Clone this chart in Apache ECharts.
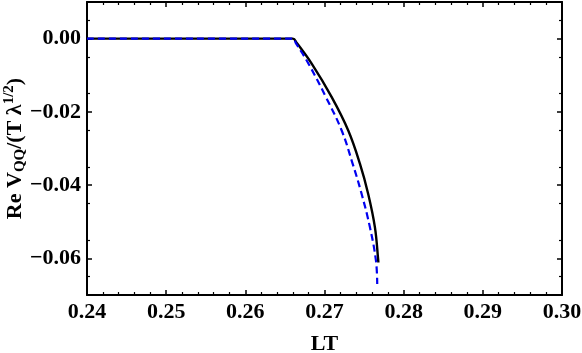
<!DOCTYPE html>
<html lang="en">
<head>
<meta charset="UTF-8">
<title>Re V_QQ vs LT</title>
<style>
	html,body{margin:0;padding:0;background:#fff;}
	#chart{width:582px;height:353px;}
</style>
</head>
<body>
<div id="chart"></div>
<script src="https://cdn.jsdelivr.net/npm/echarts@6/dist/echarts.min.js"></script>
<script>
	// values
	var xTicks = [0.24, 0.25, 0.26, 0.27, 0.28, 0.29, 0.30];
	var yTicks = [0.00, -0.02, -0.04, -0.06];

	var solidX = [0.24, 0.2660, 0.2665, 0.26838, 0.27091, 0.27300, 0.27448, 0.27552, 0.27637, 0.27679, 0.27680];
	var solidY = [0, 0, -0.0012, -0.00684, -0.01597, -0.02508, -0.03419, -0.04240, -0.05153, -0.06064, -0.0611];

	var dashX = [0.24, 0.2660, 0.2664, 0.26798, 0.27018, 0.27217, 0.27356, 0.27469, 0.27574, 0.27650, 0.27666];
	var dashY = [0, 0, -0.0013, -0.00684, -0.01597, -0.02508, -0.03419, -0.04240, -0.05153, -0.06064, -0.06701];

	function pairs(xs, ys){
		var out = [];
		for(var i=0;i<xs.length;i++) out.push([xs[i], ys[i]]);
		return out;
	}
	function fmt(v){
		var s = Math.abs(v).toFixed(2);
		return (v < -1e-9 ? '\u2212' : '') + s;
	}

	var font = '"Liberation Serif", "DejaVu Serif", serif';
	var frame = {show:true, onZero:false, lineStyle:{color:'#000', width:2}};
	var tick = {show:true, inside:true, length:5, lineStyle:{color:'#000', width:1.5}};

	var option = {
		animation:false,
		grid:{left:87, right:20, top:2, bottom:58, outerBoundsMode:'none'},
		xAxis:[{
			type:'value', min:0.24, max:0.30, interval:0.01,
			name:'LT', nameLocation:'middle', nameGap:38, nameMoveOverlap:false,
			nameTextStyle:{fontFamily:font, fontWeight:'bold', fontSize:22, color:'#000'},
			axisLine:frame,
			axisTick:{show:true, inside:true, length:5, customValues:xTicks, lineStyle:{color:'#000', width:1.5}},
			minorTick:{show:true, splitNumber:5, length:3, lineStyle:{color:'#000', width:1.2}},
			axisLabel:{fontFamily:font, fontWeight:'bold', fontSize:22, color:'#000', margin:6,
				customValues:xTicks,
				formatter:function(v){ return v.toFixed(2); }},
			splitLine:{show:false}
		},{
			type:'value', position:'top', min:0.24, max:0.30, interval:0.01,
			axisLine:frame,
			axisTick:tick,
			minorTick:{show:true, splitNumber:5, length:3, lineStyle:{color:'#000', width:1.2}},
			axisLabel:{show:false}, splitLine:{show:false}
		}],
		yAxis:[{
			type:'value', min:-0.07, max:0.01, interval:0.01,
			name:'{t|Re }{v|V}{sub|QQ}{t|/(T }{l|\u03bb}{sup|1/2}{t|)}',
			nameLocation:'middle', nameGap:59, nameRotate:90, nameMoveOverlap:false,
			nameTextStyle:{rich:{
				t:{fontFamily:font, fontWeight:'bold', fontSize:22, color:'#000'},
				v:{fontFamily:font, fontWeight:'bold', fontSize:22, color:'#000'},
				l:{fontFamily:font, fontWeight:'bold', fontSize:22, color:'#000'},
				sub:{fontFamily:font, fontWeight:'bold', fontSize:15, color:'#000', verticalAlign:'bottom', padding:[9,0,0,0]},
				sup:{fontFamily:font, fontWeight:'bold', fontSize:15, color:'#000', verticalAlign:'top', padding:[0,0,11,0]}
			}},
			axisLine:frame,
			axisTick:{show:true, inside:true, length:5, customValues:yTicks, lineStyle:{color:'#000', width:1.5}},
			minorTick:{show:true, splitNumber:2, length:3, lineStyle:{color:'#000', width:1.2}},
			axisLabel:{fontFamily:font, fontWeight:'bold', fontSize:22, color:'#000', margin:6,
				customValues:yTicks, formatter:fmt},
			splitLine:{show:false}
		},{
			type:'value', position:'right', min:-0.07, max:0.01, interval:0.01,
			axisLine:frame,
			axisTick:{show:true, inside:true, length:5, customValues:yTicks, lineStyle:{color:'#000', width:1.5}},
			minorTick:{show:true, splitNumber:2, length:3, lineStyle:{color:'#000', width:1.2}},
			axisLabel:{show:false}, splitLine:{show:false}
		}],
		series:[{
			type:'line', data:pairs(solidX, solidY), showSymbol:false, smooth:0.4,
			lineStyle:{color:'#000', width:2.4}
		},{
			type:'line', data:pairs(dashX, dashY), showSymbol:false, smooth:0.4,
			lineStyle:{color:'#0000f0', width:2.2, type:[7,4]}
		}]
	};
	var myChart = echarts.init(document.getElementById('chart'));
	myChart.setOption(option);
</script>
</body>
</html>
